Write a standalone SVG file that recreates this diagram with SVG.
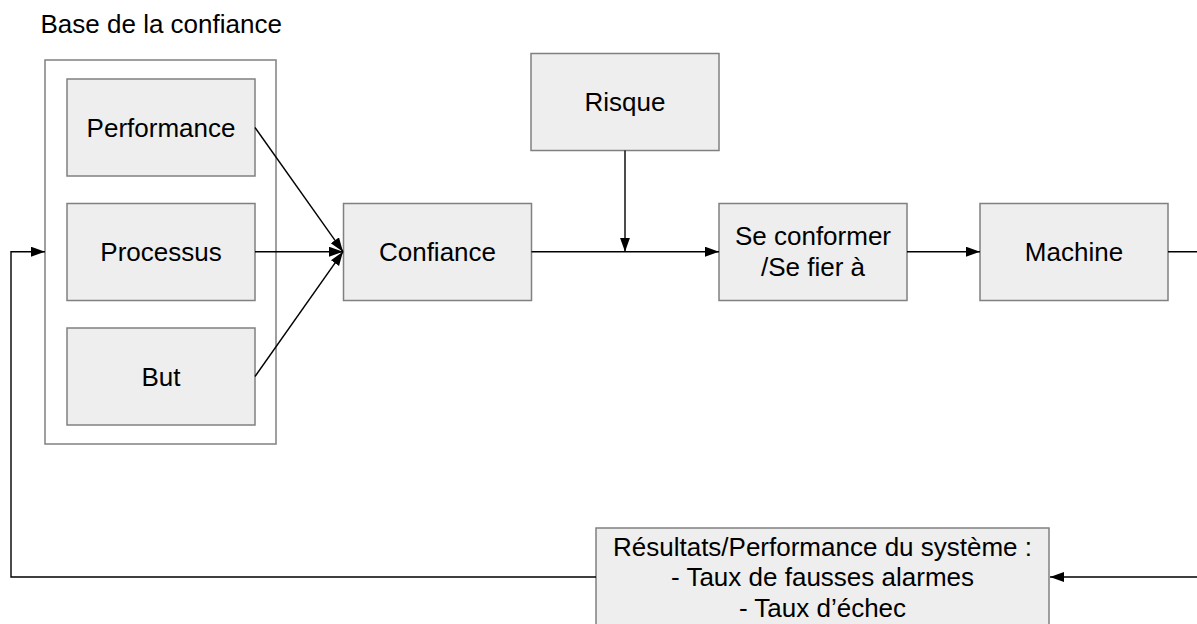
<svg xmlns="http://www.w3.org/2000/svg" width="1197" height="624" viewBox="0 0 1197 624">
<style>
.box{fill:#eeeeee;stroke:#808080;stroke-width:1.5}
.outer{fill:#ffffff;stroke:#808080;stroke-width:1.5}
.t{font-family:"Liberation Sans",Arial,sans-serif;font-size:26px;fill:#000;text-anchor:middle}
.title{font-family:"Liberation Sans",Arial,sans-serif;font-size:26px;fill:#000}
.c{fill:none;stroke:#000;stroke-width:1.4}
</style>
<defs>
<marker id="ah" markerUnits="userSpaceOnUse" markerWidth="15" markerHeight="11" refX="14" refY="5" orient="auto">
<path d="M0,0 L14,5 L0,10 z" fill="#000"/>
</marker>
</defs>
<rect width="1197" height="624" fill="#fff"/>
<text class="title" x="40.5" y="33">Base de la confiance</text>
<g id="base">
<rect class="outer" x="45" y="60" width="231" height="384"/>
</g>
<g id="performance">
<rect class="box" x="67" y="79" width="188" height="97"/>
<text class="t" x="161" y="137">Performance</text>
</g>
<g id="processus">
<rect class="box" x="67" y="203.5" width="188" height="97"/>
<text class="t" x="161" y="261">Processus</text>
</g>
<g id="but">
<rect class="box" x="67" y="328" width="188" height="97"/>
<text class="t" x="161" y="386">But</text>
</g>
<g id="confiance">
<rect class="box" x="343.5" y="203.5" width="188" height="97"/>
<text class="t" x="437.5" y="261">Confiance</text>
</g>
<g id="risque">
<rect class="box" x="531" y="53.5" width="188" height="97"/>
<text class="t" x="625" y="111">Risque</text>
</g>
<g id="conformer">
<rect class="box" x="719" y="203.5" width="188" height="97"/>
<text class="t" x="813" y="245">Se conformer</text>
<text class="t" x="813" y="276">/Se fier à</text>
</g>
<g id="machine">
<rect class="box" x="980" y="203.5" width="188" height="97"/>
<text class="t" x="1074" y="261">Machine</text>
</g>
<g id="resultats">
<rect class="box" x="596" y="528" width="453" height="110"/>
<text class="t" x="822.5" y="555.5">Résultats/Performance du système :</text>
<text class="t" x="822.5" y="586">- Taux de fausses alarmes</text>
<text class="t" x="822.5" y="616.5">- Taux d’échec</text>
</g>
<g id="connectors">
<path class="c" d="M255,127.5 L343,251.7" marker-end="url(#ah)"/>
<path class="c" d="M255,251.7 L343,251.7" marker-end="url(#ah)"/>
<path class="c" d="M255,376.5 L343,251.7" marker-end="url(#ah)"/>
<path class="c" d="M531.5,251.7 L719,251.7" marker-end="url(#ah)"/>
<path class="c" d="M625,150.5 L625,251.7" marker-end="url(#ah)"/>
<path class="c" d="M907,251.7 L980,251.7" marker-end="url(#ah)"/>
<path class="c" d="M1168,251.7 H1210 V577 H1050" marker-end="url(#ah)"/>
<path class="c" d="M596,577 H11 V251.7 H45" marker-end="url(#ah)"/>
</g>
</svg>
